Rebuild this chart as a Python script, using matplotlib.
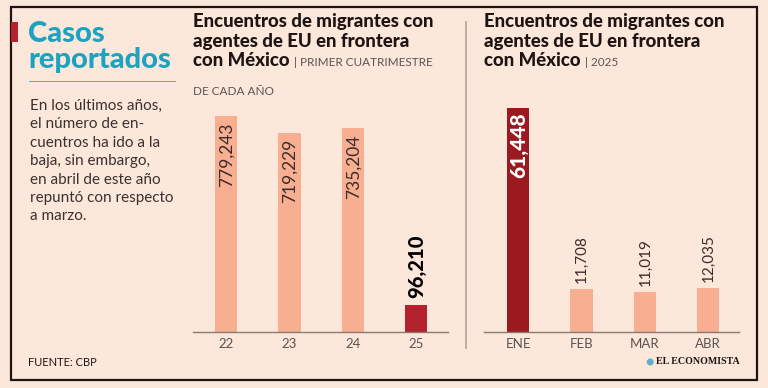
import matplotlib
matplotlib.use("Agg")
import matplotlib.pyplot as plt
from matplotlib.patches import Rectangle, Ellipse
from matplotlib.lines import Line2D
from matplotlib import font_manager

years = ["22", "23", "24", "25"]
year_values = [779243, 719229, 735204, 96210]
months = ["ENE", "FEB", "MAR", "ABR"]
month_values = [61448, 11708, 11019, 12035]

title_lines = ["Encuentros de migrantes con", "agentes de EU en frontera", "con México"]
subtitle_left = "PRIMER CUATRIMESTRE"
subtitle_left2 = "DE CADA AÑO"
subtitle_right = "2025"
side_title = ["Casos", "reportados"]
side_body = ["En los últimos años,", "el número de en-", "cuentros ha ido a la",
             "baja, sin embargo,", "en abril de este año", "repuntó con respecto", "a marzo."]
source = "FUENTE: CBP"
brand = "EL ECONOMISTA"

BG = "#FCE8DA"
LIGHT = "#F7AE91"
RED25 = "#B3222D"
REDENE = "#9A1A1F"
TEAL = "#1BA3C1"
DARK = "#1E1414"
GRAY = "#5A5252"

W, H = 768, 388
fig = plt.figure(figsize=(W / 100, H / 100), dpi=100, facecolor=BG)

names = {f.name for f in font_manager.fontManager.ttflist}
FONT = "Lato" if "Lato" in names else "DejaVu Sans"
plt.rcParams["font.family"] = [FONT, "DejaVu Sans"]


def fx(px):
    return px / W


def fy(py):
    return 1 - py / H


# border
fig.patches.append(Rectangle((fx(11), fy(380)), fx(746), (380 - 7) / H, transform=fig.transFigure,
                             fill=False, edgecolor=DARK, linewidth=1.6))
# red accent
fig.patches.append(Rectangle((fx(11), fy(42)), fx(7), 20 / H, transform=fig.transFigure,
                             facecolor="#B3222D", edgecolor="none"))
# side title
fig.text(fx(28), fy(42), side_title[0], color=TEAL, fontsize=21, fontweight="black", va="baseline")
fig.text(fx(28), fy(68), side_title[1], color=TEAL, fontsize=21, fontweight="black", va="baseline")
fig.lines.append(Line2D([fx(29), fx(175)], [fy(81), fy(81)], transform=fig.transFigure,
                        color=TEAL, linewidth=0.7, alpha=0.8))
for i, line in enumerate(side_body):
    fig.text(fx(30), fy(106 + i * 18.4), line, color="#3A3030", fontsize=11,
             fontweight="normal", va="center")

# divider
fig.lines.append(Line2D([fx(466), fx(466)], [fy(22), fy(348)], transform=fig.transFigure,
                        color="#B8A8A0", linewidth=1.3))


def titles(x0, sub, sub2=None):
    t = None
    for i, line in enumerate(title_lines):
        t = fig.text(fx(x0), fy(27 + i * 19.5), line, color=DARK, fontsize=13.4,
                     fontweight="black", va="baseline")
    fig.canvas.draw()
    bb = t.get_window_extent()
    fig.text((bb.x1 + 4) / W, fy(27 + 2 * 19.5), "| " + sub, color=GRAY,
             fontsize=8.5, fontweight="normal", va="baseline")
    if sub2:
        fig.text(fx(x0), fy(95), sub2, color=GRAY, fontsize=8.5, fontweight="normal", va="baseline")


titles(193, subtitle_left, subtitle_left2)
titles(484, subtitle_right)

# left chart
ax1 = fig.add_axes([fx(193), fy(332), fx(448 - 193), 232 / H])
ax1.set_facecolor("none")
x1 = list(range(len(years)))
cols1 = [LIGHT, LIGHT, LIGHT, RED25]
ax1.bar(x1, year_values, width=0.35, color=cols1)
ax1.set_xlim(-0.52, 3.5)
ax1.set_ylim(0, 779243 * 232 / 216)
for i, v in enumerate(year_values):
    lab = f"{v:,}"
    if i < 3:
        ax1.annotate(lab, (i, v), xytext=(0.5, -4.5), textcoords="offset points", rotation=90,
                     ha="center", va="top", fontsize=12.5, fontweight="normal", color="#3A2C2C")
    else:
        ax1.annotate(lab, (i, v), xytext=(0.5, 5), textcoords="offset points", rotation=90,
                     ha="center", va="bottom", fontsize=14.5, fontweight="black", color="#000000")

# right chart
ax2 = fig.add_axes([fx(484), fy(332), fx(739 - 484), 232 / H])
ax2.set_facecolor("none")
x2 = list(range(len(months)))
cols2 = [REDENE, LIGHT, LIGHT, LIGHT]
ax2.bar(x2, month_values, width=0.35, color=cols2)
ax2.set_xlim(-0.54, 3.49)
ax2.set_ylim(0, 61448 * 232 / 224)
for i, v in enumerate(month_values):
    lab = f"{v:,}"
    if i == 0:
        ax2.annotate(lab, (i, v), xytext=(0.5, -3.5), textcoords="offset points", rotation=90,
                     ha="center", va="top", fontsize=15, fontweight="black", color="white")
    else:
        ax2.annotate(lab, (i, v), xytext=(0.5, 4.5), textcoords="offset points", rotation=90,
                     ha="center", va="bottom", fontsize=11, fontweight="normal", color="#3A2C2C")

for ax, labels in ((ax1, years), (ax2, months)):
    for s in ("top", "right", "left"):
        ax.spines[s].set_visible(False)
    ax.spines["bottom"].set_color("#8A7A72")
    ax.spines["bottom"].set_linewidth(1.0)
    ax.set_yticks([])
    ax.set_xticks(range(len(labels)))
    ax.set_xticklabels(labels, fontsize=9.5, fontweight="normal", color=GRAY)
    ax.tick_params(axis="x", length=0, pad=4)

fig.text(fx(28), fy(363), source, color=DARK, fontsize=8, va="center")
bt = fig.text(fx(740), fy(362), brand, color=DARK, fontsize=7.2, fontweight="bold",
              family=["Liberation Serif", "DejaVu Serif"], ha="right", va="center")
fig.canvas.draw()
bb = bt.get_window_extent()
fig.patches.append(Ellipse(((bb.x0 - 6) / W, fy(362)), 7 / W, 7 / H, transform=fig.transFigure,
                           facecolor="#5FB0C9", edgecolor="none"))

fig.savefig("out.png", dpi=100, facecolor=BG)
